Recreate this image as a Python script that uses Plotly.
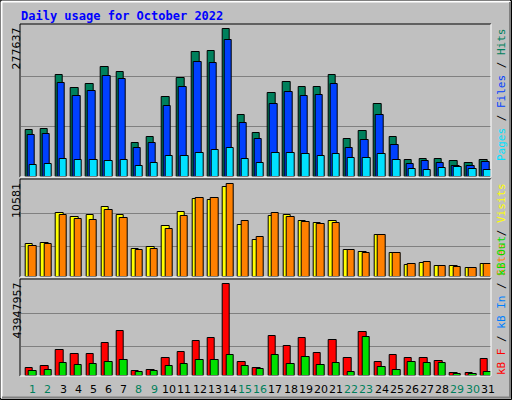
import plotly.graph_objects as go

days = list(range(1, 32))
day_labels = [str(d) for d in days]
weekend = [1, 2, 8, 9, 15, 16, 22, 23, 29, 30]

# panel 1 (scale 277637/442 per unit)
s1 = 277637 / 442
hits_u = [142,145,304,265,277,328,313,103,121,238,295,373,376,442,187,133,250,283,268,268,304,115,139,220,121,52,55,55,49,43,52]
files_u = [127,130,280,241,256,301,292,88,103,214,268,343,340,409,163,115,220,253,241,244,277,88,112,187,97,40,49,43,34,34,46]
pages_u = [37,40,55,52,52,49,52,34,43,64,64,73,82,88,55,43,73,73,70,64,70,58,58,70,52,25,22,28,31,25,22]
hits = [round(v * s1) for v in hits_u]
files = [round(v * s1) for v in files_u]
pages = [round(v * s1) for v in pages_u]

s2 = 10581 / 277
visits_u = [97,100,190,178,184,208,184,82,88,151,193,232,229,268,154,109,181,184,166,160,166,79,73,124,70,37,43,34,34,28,40]
sites_u = [91,97,184,172,169,199,175,79,82,142,181,235,235,277,166,118,190,178,163,157,160,79,70,124,70,40,46,34,31,28,40]
visits = [round(v * s2) for v in visits_u]
sites = [round(v * s2) for v in sites_u]

s3 = 43947957 / 273
kbf_u = [24,30,78,66,66,99,135,15,18,54,72,105,114,273,42,24,120,90,114,69,108,54,132,42,63,54,54,45,9,9,51]
kbout_u = [15,18,39,33,36,42,48,12,15,30,36,48,48,63,30,21,63,36,57,33,39,12,117,27,18,42,39,39,6,6,12]
kbf = [round(v * s3) for v in kbf_u]
kbout = [round(v * s3) for v in kbout_u]

max_labels = ["277637", "10581", "43947957"]

W, H = 512, 400
def py(p):
    return 1 - p / H
def px(p):
    return p / W

fig = go.Figure()
bw = 0.49
def bars(xoff, vals, color, ya):
    fig.add_trace(go.Bar(x=[d + xoff for d in days], y=vals, width=bw, marker=dict(color=color, line=dict(color="black", width=1)),
                         yaxis=ya, xaxis="x", showlegend=False))

bars(-0.25, hits, "#00805c", "y")
bars(-0.12, files, "#0040ff", "y")
bars(0.01, pages, "#00e0ff", "y")
bars(-0.23, visits, "#ffff00", "y2")
bars(0.0, sites, "#ff8000", "y2")
bars(-0.23, kbf, "#ff0000", "y3")
bars(0.0, kbout, "#00e000", "y3")

r1, r2, r3 = 455 * s1, 288 * s2, 285 * s3
def yax(dom, rng, g1, g2):
    return dict(domain=dom, range=[0, rng], tickvals=[g1, g2], showticklabels=False, ticks="",
                showgrid=True, gridcolor="#808080", gridwidth=1, zeroline=False, fixedrange=True, anchor="x")

fig.update_layout(
    width=W, height=H, margin=dict(l=0, r=0, t=0, b=0),
    paper_bgcolor="#c0c0c0", plot_bgcolor="#c0c0c0", barmode="overlay", bargap=0,
    xaxis=dict(domain=[px(20.7), px(490.7)], range=[0.2, 31.2], showticklabels=False, ticks="", showgrid=False, zeroline=False, anchor="y3"),
    yaxis=yax([py(177), py(25)], r1, 150 * s1, 302 * s1),
    yaxis2=yax([py(277), py(180)], r2, 91 * s2, 190 * s2),
    yaxis3=yax([py(376), py(280)], r3, 87 * s3, 186 * s3),
)

ann = []
ann.append(dict(text="<b>Daily usage for October 2022</b>", x=px(19), y=py(7), xanchor="left", yanchor="top",
                font=dict(family="DejaVu Sans Mono", size=12, color="#0000ff")))
for lbl, top in zip(max_labels, [25, 180, 280]):
    ann.append(dict(text=lbl, x=px(8), y=py(top + 1), xanchor="left", yanchor="top", textangle=-90,
                    font=dict(family="DejaVu Sans", size=11, color="black")))
def vlabel(parts, y, yanchor):
    txt = '<span style="color:black"> / </span>'.join(f'<span style="color:{c}">{t}</span>' for t, c in parts)
    ann.append(dict(text=txt, x=px(493), y=py(y), xanchor="left", yanchor=yanchor, textangle=-90,
                    font=dict(family="DejaVu Sans Mono", size=11)))
vlabel([("Pages", "#00e0ff"), ("Files", "#0040ff"), ("Hits", "#00805c")], 26, "top")
vlabel([("Sites", "#ff8000"), ("Visits", "#ffff00")], 181, "top")
vlabel([("kB F", "#ff0000"), ("kB In", "#0080ff"), ("kB Out", "#00e000")], 377, "bottom")
for d, l in zip(days, day_labels):
    ann.append(dict(text=l, x=d, xref="x", y=py(381), yref="paper", yanchor="top", showarrow=False,
                    font=dict(family="DejaVu Sans", size=11, color="#00805c" if d in weekend else "black")))
for a in ann:
    a.setdefault("xref", "paper"); a.setdefault("yref", "paper"); a["showarrow"] = False
fig.update_layout(annotations=ann)

shapes = []
def line(x0, y0, x1, y1, c, w=1):
    shapes.append(dict(type="line", xref="paper", yref="paper", x0=px(x0), y0=py(y0), x1=px(x1), y1=py(y1), line=dict(color=c, width=w)))
# outer frame
line(0.5, 0.5, 511.5, 0.5, "black"); line(0.5, 0.5, 0.5, 399.5, "black")
line(511.5, 0.5, 511.5, 399.5, "black"); line(0.5, 399.5, 511.5, 399.5, "black")
line(1.5, 1.5, 510, 1.5, "white", 2); line(1.5, 1.5, 1.5, 398, "white", 2)
line(2, 397.5, 510.5, 397.5, "#808080", 2); line(510, 2, 510, 398, "#808080", 2)
for t, b in [(24, 177), (179, 277), (279, 376)]:
    line(20, t, 491, t, "black"); line(20, t, 20, b, "black")
    line(20, b, 491, b, "white"); line(491, t, 491, b, "white")
fig.update_layout(shapes=shapes)

fig.write_html("out.html", config={"displayModeBar": False},
               post_script="document.body.style.margin='0';document.body.style.overflow='hidden';")
